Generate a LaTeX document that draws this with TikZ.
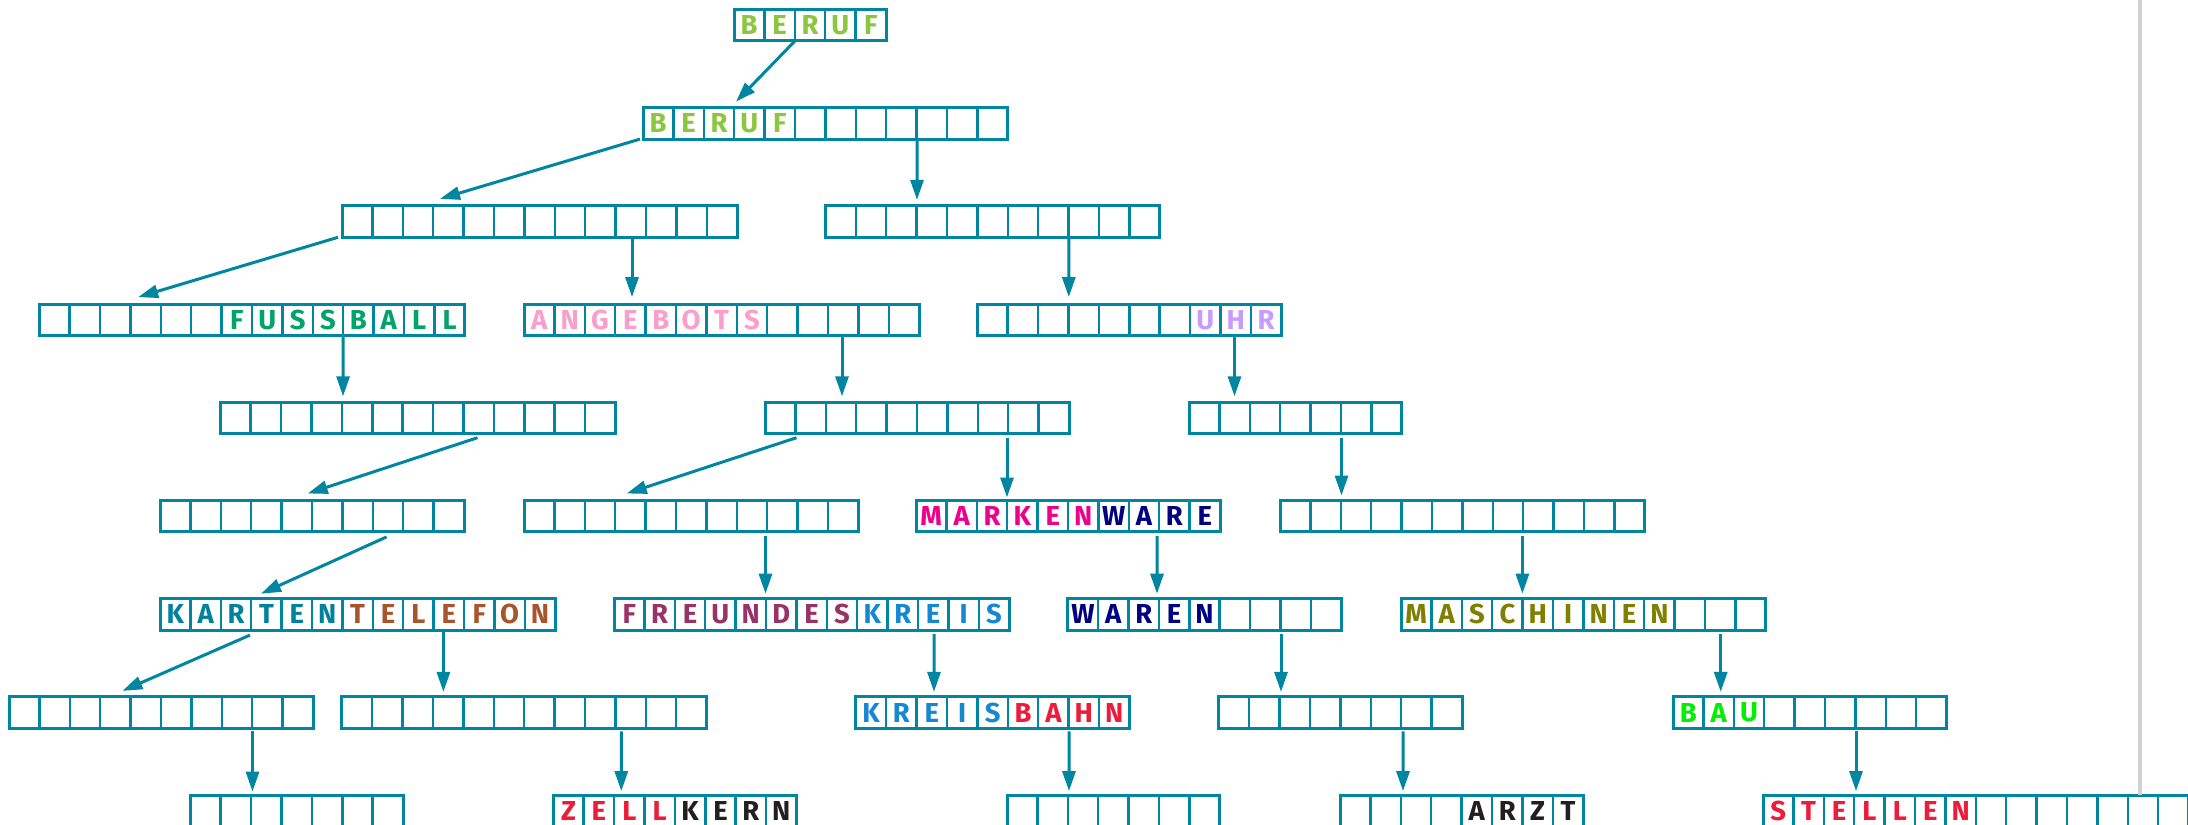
\documentclass[tikz,border=0pt]{standalone}
\usepackage{fontspec}
\newfontfamily\boxfont{Fira Sans}
\usepackage{xcolor}
\usepackage{tikz}
\usetikzlibrary{arrows.meta, calc}

\definecolor{frameblue}{RGB}{0,134,161}
\definecolor{berufgreen}{RGB}{140,198,63}
\definecolor{ballgreen}{RGB}{0,163,108}
\definecolor{offerpink}{RGB}{250,158,204}
\definecolor{clocklilac}{RGB}{200,155,255}
\definecolor{brandmagenta}{RGB}{236,0,140}
\definecolor{warenavy}{RGB}{0,0,128}
\definecolor{cardteal}{RGB}{0,130,158}
\definecolor{phonebrown}{RGB}{168,84,44}
\definecolor{friendplum}{RGB}{153,51,102}
\definecolor{circleblue}{RGB}{20,136,208}
\definecolor{signalred}{RGB}{237,28,58}
\definecolor{machineolive}{RGB}{128,128,0}
\definecolor{buildgreen}{RGB}{0,240,0}
\definecolor{plainblack}{RGB}{35,31,32}
\definecolor{rulegray}{RGB}{210,210,210}

\def\cellw{30.4}

% one row of empty cells: name, top left corner, number of cells
\newcommand{\blankrow}[3]{%
  \node[wordframe, minimum width={#3*\cellw*0.1mm}, anchor=north west] (#1) at (#2) {};
  \foreach \i in {2,...,#3}
    \draw[cellline] ($(#1.north west)+({(\i-1)*\cellw},0)$) -- ($(#1.south west)+({(\i-1)*\cellw},0)$);
}
% row with letters: name, corner, cells, first filled cell, letter/colour list
\newcommand{\wordrow}[5]{%
  \blankrow{#1}{#2}{#3}
  \foreach \ltr/\clr [count=\i from #4] in {#5}
    \node[letter, text=\clr] (#1-\i) at ($(#1.west)+({(\i-0.5)*\cellw},0)$) {\ltr};
}

\begin{document}
\begin{tikzpicture}[
    x=0.1mm, y=0.1mm,
    wordframe/.style={draw=frameblue, fill=white, line width=0.3mm, inner sep=0pt, outer sep=0pt, minimum height=3.14mm},
    cellline/.style={draw=frameblue, line width=0.25mm},
    letter/.style={font=\boxfont\bfseries\fontsize{7.8}{9}\selectfont, inner sep=0pt},
    link/.style={draw=frameblue, line width=0.3mm, -{Triangle[length=2mm, width=1.3mm]}},
    pagerule/.style={draw=rulegray, line width=0.4mm}
]
\useasboundingbox (0,0) rectangle (2188,-825);

% Page rule
\coordinate (ruletop) at (2139.5,0);

% Rows
\wordrow{beruf}{734,-9.5}{5}{1}{B/berufgreen, E/berufgreen, R/berufgreen, U/berufgreen, F/berufgreen}

\wordrow{berufplus}{643,-107.7}{12}{1}{B/berufgreen, E/berufgreen, R/berufgreen, U/berufgreen, F/berufgreen}

\blankrow{empty3a}{342,-205.9}{13}
\blankrow{empty3b}{825.4,-205.9}{11}

\wordrow{fussball}{39.2,-304.1}{14}{7}{F/ballgreen, U/ballgreen, S/ballgreen, S/ballgreen, B/ballgreen, A/ballgreen, L/ballgreen, L/ballgreen}
\wordrow{angebots}{524,-304.1}{13}{1}{A/offerpink, N/offerpink, G/offerpink, E/offerpink, B/offerpink, O/offerpink, T/offerpink, S/offerpink}
\wordrow{uhr}{977.3,-304.1}{10}{8}{U/clocklilac, H/clocklilac, R/clocklilac}

\blankrow{empty5a}{220.3,-402.3}{13}
\blankrow{empty5b}{765,-402.3}{10}
\blankrow{empty5c}{1189,-402.3}{7}

\blankrow{empty6a}{160,-500.5}{10}
\blankrow{empty6b}{524,-500.5}{11}
\wordrow{markenware}{916,-500.5}{10}{1}{M/brandmagenta, A/brandmagenta, R/brandmagenta, K/brandmagenta, E/brandmagenta, N/brandmagenta, W/warenavy, A/warenavy, R/warenavy, E/warenavy}
\blankrow{empty6d}{1280,-500.5}{12}

\wordrow{kartentelefon}{160,-598.7}{13}{1}{K/cardteal, A/cardteal, R/cardteal, T/cardteal, E/cardteal, N/cardteal, T/phonebrown, E/phonebrown, L/phonebrown, E/phonebrown, F/phonebrown, O/phonebrown, N/phonebrown}
\wordrow{freundeskreis}{614,-598.7}{13}{1}{F/friendplum, R/friendplum, E/friendplum, U/friendplum, N/friendplum, D/friendplum, E/friendplum, S/friendplum, K/circleblue, R/circleblue, E/circleblue, I/circleblue, S/circleblue}
\wordrow{waren}{1067.7,-598.7}{9}{1}{W/warenavy, A/warenavy, R/warenavy, E/warenavy, N/warenavy}
\wordrow{maschinen}{1401,-598.7}{12}{1}{M/machineolive, A/machineolive, S/machineolive, C/machineolive, H/machineolive, I/machineolive, N/machineolive, E/machineolive, N/machineolive}

\blankrow{empty8a}{9,-696.9}{10}
\blankrow{empty8b}{341.8,-696.9}{12}
\wordrow{kreisbahn}{855.8,-696.9}{9}{1}{K/circleblue, R/circleblue, E/circleblue, I/circleblue, S/circleblue, B/signalred, A/signalred, H/signalred, N/signalred}
\blankrow{empty8d}{1218.8,-696.9}{8}
\wordrow{bau}{1673,-696.9}{9}{1}{B/buildgreen, A/buildgreen, U/buildgreen}

\blankrow{empty9a}{190.3,-795.1}{7}
\wordrow{zellkern}{553.3,-795.1}{8}{1}{Z/signalred, E/signalred, L/signalred, L/signalred, K/plainblack, E/plainblack, R/plainblack, N/plainblack}
\blankrow{empty9c}{1007,-795.1}{7}
\wordrow{arzt}{1340,-795.1}{8}{5}{A/plainblack, R/plainblack, Z/plainblack, T/plainblack}
\wordrow{stellen}{1763,-795.1}{14}{1}{S/signalred, T/signalred, E/signalred, L/signalred, L/signalred, E/signalred, N/signalred}

\draw[pagerule] (ruletop) -- (ruletop |- stellen.north);

% Links
\draw[link] ($(beruf.south west)+(61,0)$) -- ($(berufplus.north west)+(93,6)$);
\draw[link] ($(berufplus.south west)+(-3,0)$) -- ($(empty3a.north west)+(98,7)$);
\draw[link] ($(berufplus.south west)+(274,0)$) -- ($(empty3b.north west)+(91.6,6)$);
\draw[link] ($(empty3a.south west)+(-4,0)$) -- ($(fussball.north west)+(99,7)$);
\draw[link] ($(empty3a.south west)+(290,-1)$) -- ($(angebots.north west)+(108,7)$);
\draw[link] ($(empty3b.south west)+(243.4,0)$) -- ($(uhr.north west)+(91.5,7)$);
\draw[link] ($(fussball.south west)+(304,-1)$) -- ($(empty5a.north west)+(122.7,6)$);
\draw[link] ($(angebots.south west)+(318,-1)$) -- ($(empty5b.north west)+(77,6)$);
\draw[link] ($(uhr.south west)+(257.2,-1)$) -- ($(empty5c.north west)+(45.5,6)$);
\draw[link] ($(empty5a.south west)+(257.2,-4)$) -- ($(empty6a.north west)+(147.7,7)$);
\draw[link] ($(empty5b.south west)+(31.5,-4)$) -- ($(empty6b.north west)+(102.7,7)$);
\draw[link] ($(empty5b.south west)+(242,-4)$) -- ($(markenware.north west)+(91,3)$);
\draw[link] ($(empty5c.south west)+(152.5,-4)$) -- ($(empty6d.north west)+(61.5,5)$);
\draw[link] ($(empty6a.south west)+(226.6,-5)$) -- ($(kartentelefon.north west)+(101,5)$);
\draw[link] ($(empty6b.south west)+(241.5,-4)$) -- ($(freundeskreis.north west)+(151.5,5)$);
\draw[link] ($(markenware.south west)+(241,-4)$) -- ($(waren.north west)+(89.3,5)$);
\draw[link] ($(empty6d.south west)+(242.4,-4)$) -- ($(maschinen.north west)+(121.4,5)$);
\draw[link] ($(kartentelefon.south west)+(90,-5)$) -- ($(empty8a.north west)+(113.4,6)$);
\draw[link] ($(kartentelefon.south west)+(283.4,-2)$) -- ($(empty8b.north west)+(101.6,5)$);
\draw[link] ($(freundeskreis.south west)+(320,-4)$) -- ($(kreisbahn.north west)+(78.2,5)$);
\draw[link] ($(waren.south west)+(213.3,-4)$) -- ($(empty8d.north west)+(62.2,5)$);
\draw[link] ($(maschinen.south west)+(319.7,-4)$) -- ($(bau.north west)+(47.7,5)$);
\draw[link] ($(empty8a.south west)+(243.5,-3)$) -- ($(empty9a.north west)+(62.2,3.5)$);
\draw[link] ($(empty8b.south west)+(279.5,-3)$) -- ($(zellkern.north west)+(68,4)$);
\draw[link] ($(kreisbahn.south west)+(213.2,-3)$) -- ($(empty9c.north west)+(62,4)$);
\draw[link] ($(empty8d.south west)+(184.2,-3)$) -- ($(arzt.north west)+(63,4)$);
\draw[link] ($(bau.south west)+(183,-3)$) -- ($(stellen.north west)+(93,4)$);

\end{tikzpicture}
\end{document}
